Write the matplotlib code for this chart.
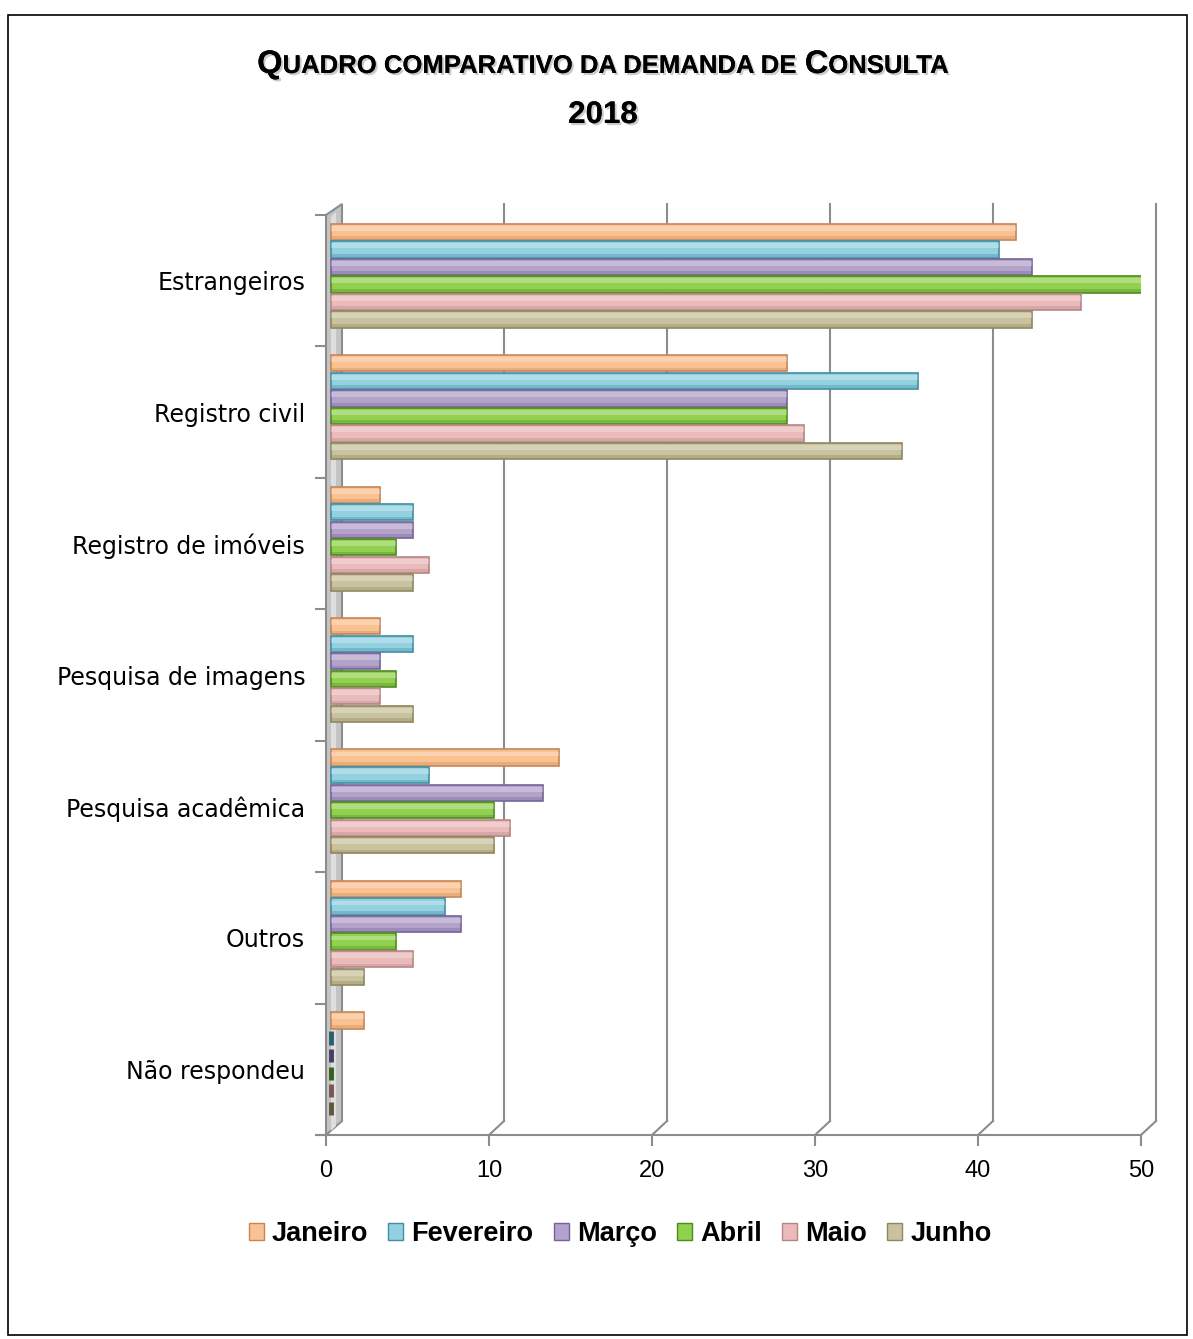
import matplotlib
matplotlib.use("Agg")
import matplotlib.pyplot as plt
import matplotlib.patheffects as pe
from matplotlib.patches import Patch, Polygon
from matplotlib.lines import Line2D
from matplotlib.transforms import ScaledTranslation, IdentityTransform
import numpy as np

plt.rcParams['font.family'] = ['Liberation Sans', 'DejaVu Sans']

categories = ["Estrangeiros", "Registro civil", "Registro de imóveis", "Pesquisa de imagens",
              "Pesquisa acadêmica", "Outros", "Não respondeu"]
months = ["Janeiro", "Fevereiro", "Março", "Abril", "Maio", "Junho"]
janeiro   = [42, 28, 3, 3, 14, 8, 2]
fevereiro = [41, 36, 5, 5, 6, 7, 0]
marco     = [43, 28, 5, 3, 13, 8, 0]
abril     = [50, 28, 4, 4, 10, 4, 0]
maio      = [46, 29, 6, 3, 11, 5, 0]
junho     = [43, 35, 5, 5, 10, 2, 0]
series = [janeiro, fevereiro, marco, abril, maio, junho]
xticks = [0, 10, 20, 30, 40, 50]

face = ["#FAC291", "#93D0E0", "#B3A2C9", "#92D050", "#EBBBBB", "#C9C29E"]
edge = ["#C4865A", "#3F8EA3", "#74639A", "#4F8A22", "#B48585", "#8E865E"]
dark = ["#7A5030", "#2A5F6E", "#4A3E66", "#35601A", "#7A5555", "#5E583C"]

W, H = 1193, 1339
DPI = 100
fig = plt.figure(figsize=(W / DPI, H / DPI), dpi=DPI)

# outer border
fig.add_artist(plt.Rectangle((8 / W, 4 / H), 1179 / W, 1320 / H, transform=fig.transFigure,
                             fill=False, edgecolor="black", linewidth=1.2))

x0px, x1px = 326, 1141
ytop, ybot = 215, 1135
ax = fig.add_axes([x0px / W, 1 - ybot / H, (x1px - x0px) / W, (ybot - ytop) / H])
ax.set_xlim(0, 50)
ax.set_ylim(len(categories) - 0.5, -0.5)
ax.patch.set_visible(False)
ax.set_zorder(2)
for s in ax.spines.values():
    s.set_visible(False)

depth_x, depth_y = 15, 14

# back wall gridlines with floor diagonals
for v in xticks:
    fx, fy = ax.transData.transform((v, len(categories) - 0.5))
    bx = fx + depth_x
    top_y = H - ytop + depth_y - 3
    if v != 0:
        fig.add_artist(Line2D([bx, bx], [fy + depth_y, top_y], transform=IdentityTransform(),
                              color="#8C8C8C", linewidth=1.5, zorder=0.5))
        fig.add_artist(Line2D([fx, bx], [fy, fy + depth_y], transform=IdentityTransform(),
                              color="#8C8C8C", linewidth=1.5, zorder=0.5))

# left wall
fx0, fy0 = ax.transData.transform((0, len(categories) - 0.5))
wall = Polygon([(fx0, fy0), (fx0, H - ytop), (fx0 + depth_x + 1, H - ytop + depth_y - 3),
                (fx0 + depth_x + 1, fy0 + depth_y)], closed=True, transform=IdentityTransform(),
               facecolor="#C4C4C4", edgecolor="#8C8C8C", linewidth=1.5, zorder=0.6)
fig.add_artist(wall)
fig.add_artist(Polygon([(fx0 + 5, fy0 + 4), (fx0 + 5, H - ytop - 2), (fx0 + 10, H - ytop + 3),
                        (fx0 + 10, fy0 + 9)], closed=True, transform=IdentityTransform(),
                       facecolor="#DEDEDE", edgecolor="none", zorder=0.7))

# floor line
fig.add_artist(Line2D([fx0 - 8, ax.transData.transform((50, 0))[0]], [fy0, fy0],
                      transform=IdentityTransform(), color="#8C8C8C", linewidth=1.5, zorder=0.8))

# bars
slot = 0.8 / len(months)
bh = slot * 0.93
off = ax.transData + ScaledTranslation(5 / DPI, 5 / DPI, fig.dpi_scale_trans)
y = np.arange(len(categories))
for i, (vals, fc, ec, dk) in enumerate(zip(series, face, edge, dark)):
    pos = y - 0.4 + slot * (i + 0.5)
    ecs = [ec if v > 0 else dk for v in vals]
    lws = [1.2 if v > 0 else 3.5 for v in vals]
    ax.barh(pos, vals, height=bh * np.array([1.0 if v > 0 else 0.8 for v in vals]), color=fc,
            edgecolor=ecs, linewidth=lws, transform=off, zorder=3)
    ax.barh(pos - bh * 0.22, vals, height=bh * 0.3, left=0, color="white", alpha=0.28,
            linewidth=0, transform=off, zorder=4)
    ax.barh(pos + bh * 0.36, vals, height=bh * 0.18, color=ec, alpha=0.35,
            linewidth=0, transform=off, zorder=4)

# axes ticks
ax.set_xticks(xticks)
ax.set_xticklabels([str(t) for t in xticks], fontsize=17)
ax.tick_params(axis="x", length=8, width=1.5, color="#8C8C8C", pad=10)
ax.set_yticks(y)
ax.set_yticklabels(categories, fontsize=17, family=["DejaVu Sans"])
ax.tick_params(axis="y", length=0, pad=15)
ax.set_yticks(np.arange(-0.5, len(categories), 1.0), minor=True)
ax.tick_params(axis="y", which="minor", length=8, width=1.5, color="#8C8C8C")

# title with small caps
fig.canvas.draw()
renderer = fig.canvas.get_renderer()
parts = [("Q", 23.5), ("UADRO COMPARATIVO DA DEMANDA DE ", 18.5), ("C", 23.5), ("ONSULTA", 18.5)]
shadow = [pe.withSimplePatchShadow(offset=(1.5, -1.5), shadow_rgbFace="#999999", alpha=0.5), pe.Normal()]
widths = []
for t, s in parts:
    tmp = fig.text(0, 0, t, fontsize=s, fontweight="bold")
    widths.append(tmp.get_window_extent(renderer).width)
    tmp.remove()
total = sum(widths)
xstart = 603 - total / 2
ybase = H - 73
for (t, s), w in zip(parts, widths):
    fig.text(xstart / W, ybase / H, t, fontsize=s, fontweight="bold", ha="left", va="baseline",
             path_effects=shadow)
    xstart += w
fig.text(603 / W, 1 - 115 / H, "2018", fontsize=22.5, fontweight="bold", ha="center", va="center",
         path_effects=shadow)

# legend
handles = [Patch(facecolor=fc, edgecolor=ec, linewidth=1.0) for fc, ec in zip(face, edge)]
leg = fig.legend(handles, months, loc="center", bbox_to_anchor=(620 / W, 1 - 1234 / H), ncol=6,
                 frameon=False, handlelength=0.55, handleheight=0.55, handletextpad=0.3,
                 columnspacing=0.75, prop={"size": 19.5, "weight": "bold"})

fig.savefig("out.png", dpi=DPI)
